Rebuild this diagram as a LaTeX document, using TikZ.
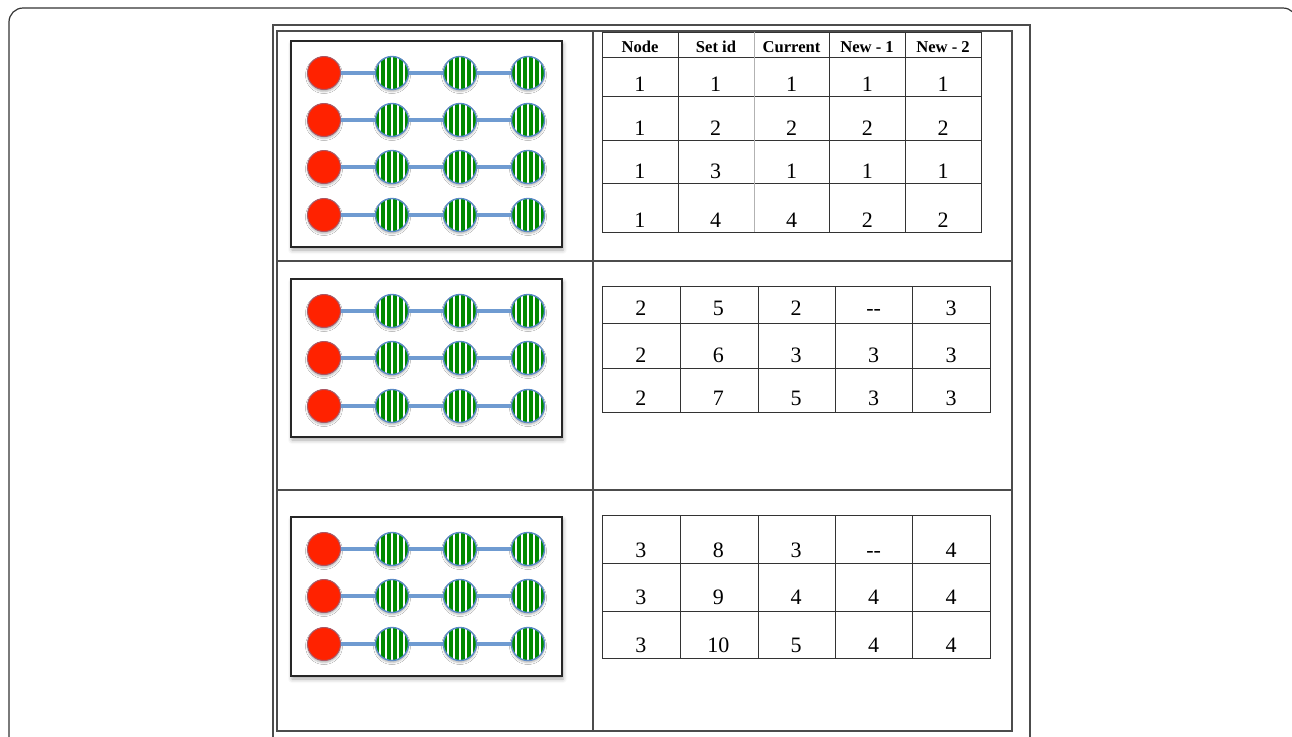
\documentclass[tikz,border=0pt]{standalone}
\usepackage{fontspec}
\setmainfont{Liberation Serif}
\usetikzlibrary{shadows.blur}

\definecolor{ballred}{HTML}{FF2200}
\definecolor{stripegreen}{HTML}{008A00}
\definecolor{linkblue}{HTML}{6F9BD1}
\definecolor{ballrim}{HTML}{5A8AC6}

\begin{document}
\begin{tikzpicture}[
    x=0.5pt, y=-0.5pt,
    font=\fontsize{11}{13}\selectfont,
    outerframe/.style={
        draw=black!80, line width=0.6pt, rounded corners=7pt
    },
    frame/.style={
        draw=black!70, line width=0.6pt
    },
    grid/.style={
        draw=black!80, line width=0.5pt
    },
    imgbox/.style={
        draw=black!85, fill=white, line width=0.6pt, inner sep=0pt,
        blur shadow={shadow xshift=0.5pt, shadow yshift=-1.5pt, shadow blur radius=2pt, shadow opacity=35}
    },
    redball/.style={
        circle, minimum size=16.5pt, inner sep=0pt, fill=ballred, draw=ballrim!50!ballred, line width=0.5pt,
        blur shadow={shadow xshift=0pt, shadow yshift=-1pt, shadow blur radius=1pt, shadow opacity=30}
    },
    greenball/.style={
        circle, minimum size=16.5pt, inner sep=0pt, draw=ballrim, line width=0.7pt,
        blur shadow={shadow xshift=0pt, shadow yshift=-1pt, shadow blur radius=1pt, shadow opacity=30},
        path picture={
            \fill[stripegreen] (path picture bounding box.south west) rectangle (path picture bounding box.north east);
            \foreach \s in {-6pt,-3pt,0pt,3pt,6pt}
                \draw[white, line width=0.7pt] ([xshift=\s]path picture bounding box.north) -- ([xshift=\s]path picture bounding box.south);
        }
    },
    link/.style={
        draw=linkblue, line width=1.9pt
    },
    val/.style={
        anchor=base, inner sep=0pt
    },
    head/.style={
        anchor=base, inner sep=0pt, font=\fontsize{8.3}{10}\selectfont\bfseries
    }
]
    \useasboundingbox (0,0) rectangle (1292,736);

    % Outer frames
    \draw[outerframe] (9,760) -- (9,8) -- (1297,8) -- (1297,760);
    \draw[frame] (273,760) -- (273,25) -- (1030,25) -- (1030,760);
    \draw[frame] (277,31) rectangle (1012,731);
    \draw[frame] (593,31) -- (593,731);
    \draw[frame] (277,261) -- (1012,261);
    \draw[frame] (277,490) -- (1012,490);

    % Picture boxes
    \node[imgbox, minimum width=135.5pt, minimum height=103pt] (box1) at (426.5,144) {};
    \node[imgbox, minimum width=135.5pt, minimum height=79pt] (box2) at (426.5,358) {};
    \node[imgbox, minimum width=135.5pt, minimum height=79.5pt] (box3) at (426.5,596.5) {};

    % Chains of balls
    \foreach \b/\rows in {1/{73,120,167,215}, 2/{311,358,406}, 3/{549,596,644}}
        \foreach \yy [count=\r] in \rows {
            \node[redball] (b\b-\r-1) at (324,\yy) {};
            \node[greenball] (b\b-\r-2) at (392,\yy) {};
            \node[greenball] (b\b-\r-3) at (460,\yy) {};
            \node[greenball] (b\b-\r-4) at (528,\yy) {};
            \draw[link] (b\b-\r-1) -- (b\b-\r-2);
            \draw[link] (b\b-\r-2) -- (b\b-\r-3);
            \draw[link] (b\b-\r-3) -- (b\b-\r-4);
        }

    % Table 1
    \draw[grid] (602,32) rectangle (981,232);
    \foreach \yy in {57,96,140,183} \draw[grid] (602,\yy) -- (981,\yy);
    \foreach \xx in {678,829,905} \draw[grid] (\xx,32) -- (\xx,232);
    \draw[grid, draw=black!30] (754,32) -- (754,232);
    \node[head] (h1) at (640,52) {Node};
    \node[head] (h2) at (716,52) {Set id};
    \node[head] (h3) at (791.5,52) {Current};
    \node[head] (h4) at (867,52) {New - 1};
    \node[head] (h5) at (943,52) {New - 2};
    \foreach \r/\yb/\vals in {1/91/{1,1,1,1,1}, 2/135/{1,2,2,2,2}, 3/178/{1,3,1,1,1}, 4/227/{1,4,4,2,2}}
        \foreach \v [count=\c] in \vals
            \node[val] (ta-\r-\c) at (602+75.8*\c-37.9,\yb) {\v};

    % Table 2
    \draw[grid] (602,286) rectangle (990,412);
    \foreach \yy in {323,368} \draw[grid] (602,\yy) -- (990,\yy);
    \foreach \xx in {680,758,835,912} \draw[grid] (\xx,286) -- (\xx,412);
    \foreach \r/\yb/\vals in {1/315/{2,5,2,{-}{-},3}, 2/362/{2,6,3,3,3}, 3/405/{2,7,5,3,3}}
        \foreach \v [count=\c] in \vals
            \node[val] (tb-\r-\c) at (602+77.6*\c-38.8,\yb) {\v};

    % Table 3
    \draw[grid] (602,515) rectangle (990,658);
    \foreach \yy in {563,611} \draw[grid] (602,\yy) -- (990,\yy);
    \foreach \xx in {680,758,835,912} \draw[grid] (\xx,515) -- (\xx,658);
    \foreach \r/\yb/\vals in {1/557/{3,8,3,{-}{-},4}, 2/604/{3,9,4,4,4}, 3/652/{3,10,5,4,4}}
        \foreach \v [count=\c] in \vals
            \node[val] (tc-\r-\c) at (602+77.6*\c-38.8,\yb) {\v};

\end{tikzpicture}
\end{document}
